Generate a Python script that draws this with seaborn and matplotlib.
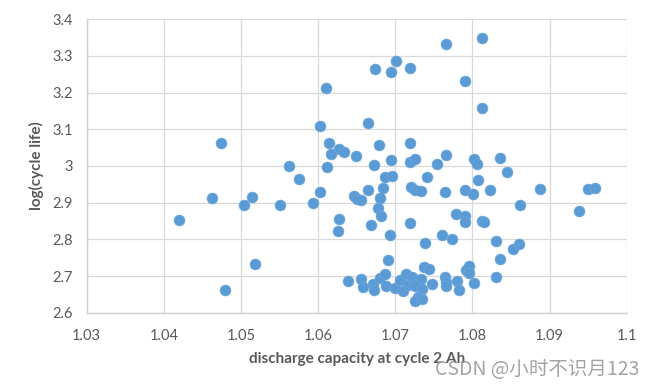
import matplotlib;
matplotlib.use('Agg');

import matplotlib.pyplot as plt;
import numpy as np;
import pandas as pd;
import seaborn as sns;

# discharge capacity at cycle 2 (Ah)
capacity = [
    1.0610, 1.0674, 1.0695, 1.0701, 1.0719, 1.0766, 1.0813, 1.0790, 1.0813, 1.0602,
    1.0665, 1.0474, 1.0614, 1.0627, 1.0633, 1.0617, 1.0649, 1.0679, 1.0719, 1.0766,
    1.0562, 1.0611, 1.0673, 1.0694, 1.0719, 1.0725, 1.0754, 1.0802, 1.0806, 1.0836,
    1.0845, 1.0575, 1.0687, 1.0696, 1.0741, 1.0807, 1.0603, 1.0665, 1.0684, 1.0720,
    1.0726, 1.0733, 1.0764, 1.0790, 1.0801, 1.0823, 1.0887, 1.0950, 1.0959, 1.0462,
    1.0514, 1.0504, 1.0550, 1.0593, 1.0646, 1.0650, 1.0656, 1.0680, 1.0678, 1.0682,
    1.0420, 1.0627, 1.0626, 1.0668, 1.0862, 1.0938, 1.0779, 1.0790, 1.0791, 1.0812,
    1.0815, 1.0719, 1.0693, 1.0739, 1.0760, 1.0773, 1.0831, 1.0852, 1.0861, 1.0836,
    1.0690, 1.0518, 1.0479, 1.0639, 1.0655, 1.0658, 1.0671, 1.0673, 1.0680, 1.0687,
    1.0688, 1.0699, 1.0706, 1.0714, 1.0710, 1.0717, 1.0722, 1.0733, 1.0725, 1.0735,
    1.0748, 1.0729, 1.0726, 1.0734, 1.0737, 1.0744, 1.0764, 1.0766, 1.0766, 1.0780,
    1.0783, 1.0792, 1.0796, 1.0796, 1.0802, 1.0830,
];

# log10 of cycle life
log_life = [
    3.214, 3.264, 3.255, 3.286, 3.267, 3.334, 3.350, 3.233, 3.157, 3.108,
    3.118, 3.063, 3.063, 3.046, 3.038, 3.032, 3.027, 3.058, 3.063, 3.030,
    3.001, 2.996, 3.003, 3.015, 3.010, 3.019, 3.005, 3.020, 3.005, 3.023,
    2.984, 2.965, 2.970, 2.972, 2.969, 2.962, 2.928, 2.934, 2.941, 2.944,
    2.934, 2.931, 2.930, 2.934, 2.924, 2.934, 2.938, 2.937, 2.940, 2.914,
    2.916, 2.895, 2.895, 2.900, 2.917, 2.909, 2.908, 2.912, 2.885, 2.864,
    2.852, 2.856, 2.823, 2.838, 2.895, 2.878, 2.870, 2.865, 2.847, 2.851,
    2.846, 2.845, 2.811, 2.789, 2.811, 2.801, 2.795, 2.775, 2.787, 2.746,
    2.745, 2.732, 2.663, 2.686, 2.692, 2.670, 2.677, 2.662, 2.695, 2.706,
    2.672, 2.668, 2.688, 2.706, 2.659, 2.676, 2.698, 2.693, 2.674, 2.664,
    2.677, 2.643, 2.631, 2.638, 2.724, 2.720, 2.697, 2.683, 2.673, 2.686,
    2.662, 2.717, 2.728, 2.707, 2.681, 2.698,
];

x_ticks = [1.03, 1.04, 1.05, 1.06, 1.07, 1.08, 1.09, 1.1];
x_tick_labels = ['1.03', '1.04', '1.05', '1.06', '1.07', '1.08', '1.09', '1.1'];
y_ticks = [2.6, 2.7, 2.8, 2.9, 3.0, 3.1, 3.2, 3.3, 3.4];
y_tick_labels = ['2.6', '2.7', '2.8', '2.9', '3', '3.1', '3.2', '3.3', '3.4'];

is_database = pd.DataFrame({
    'capacity' : np.array(capacity),
    'log_life' : np.array(log_life),
});

sns.set_style('white');
plt.rcParams['font.family'] = ['Lato', 'DejaVu Sans'];

fig = plt.figure(figsize=(6.54, 3.91), dpi=100);
ax = fig.add_axes([0.1326, 0.2003, 0.8257, 0.7503]);

sns.scatterplot(
    data=is_database,
    x='capacity',
    y='log_life',
    s=62,
    color='#5B9BD5',
    edgecolor='#6FA8DC',
    linewidth=0.4,
    zorder=3,
    ax=ax,
);

ax.set_xlim(1.03, 1.1);
ax.set_ylim(2.6, 3.4);
ax.set_xticks(x_ticks);
ax.set_xticklabels(x_tick_labels);
ax.set_yticks(y_ticks);
ax.set_yticklabels(y_tick_labels);
ax.tick_params(axis='both', length=0, labelsize=10.5, colors='#595959');
ax.tick_params(axis='x', pad=12);
ax.tick_params(axis='y', pad=10);
ax.grid(True, color='#d9d9d9', linewidth=0.9, zorder=0);
ax.set_axisbelow(True);
for is_side in ['top', 'right']:
    ax.spines[is_side].set_visible(False);
for is_side in ['left', 'bottom']:
    ax.spines[is_side].set_color('#d0d0d0');
    ax.spines[is_side].set_linewidth(1.0);

is_argument = {
    'color': '#595959',
    'fontsize': 11,
    'fontweight': 'bold',
};
ax.set_xlabel('discharge capacity at cycle 2 Ah', **is_argument, labelpad=6);
ax.set_ylabel('log(cycle life)', **is_argument, labelpad=6);

fig.text(
    0.978, 0.028,
    'CSDN @小时不识月123',
    ha='right',
    va='bottom',
    fontsize=14,
    color='#9a9a9a',
    alpha=0.9,
    family=['Noto Sans CJK SC', 'DejaVu Sans'],
);

fig.savefig('out.png', dpi=100);
